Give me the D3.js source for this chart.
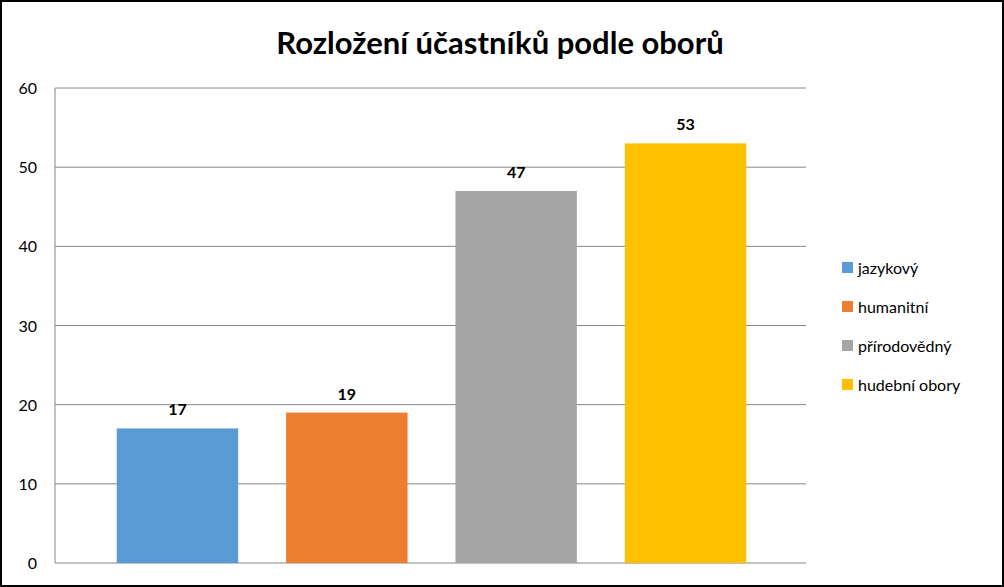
<!DOCTYPE html>
<html><head><meta charset="utf-8">
<script src="https://cdn.jsdelivr.net/npm/d3@7"></script>
<style>body{margin:0;background:#fff}</style>
</head><body>
<svg id="chart" width="1004" height="587"></svg>
<script>
const categories = ["jazykový", "humanitní", "přírodovědný", "hudební obory"];
const values = [17, 19, 47, 53];
const colours = ["#5b9bd5", "#ed7d31", "#a5a5a5", "#ffc000"];
const yTicks = [0, 10, 20, 30, 40, 50, 60];

const svg = d3.select("#chart");
const font = "Lato, 'Open Sans', sans-serif";

// outer border
svg.append("rect").attr("x", 1).attr("y", 1).attr("width", 1002).attr("height", 585)
    .attr("fill", "#fff").attr("stroke", "#000").attr("stroke-width", 2);

svg.append("text").attr("x", 500).attr("y", 54).attr("text-anchor", "middle")
    .attr("font-family", font).attr("font-weight", "bold").attr("font-size", 31)
    .text("Rozložení účastníků podle oborů");

const plotLeft = 55, plotRight = 806, plotTop = 88, plotBottom = 563;
const y = d3.scaleLinear().domain([0, 60]).range([plotBottom, plotTop]);
const x = d3.scaleBand().domain(categories).range([116.75, 746.25])
    .paddingInner(0.283).paddingOuter(0);

// gridlines
svg.append("g").selectAll("line").data(yTicks).join("line")
    .attr("x1", plotLeft).attr("x2", plotRight)
    .attr("y1", d => y(d)).attr("y2", d => y(d))
    .attr("stroke", "#868686").attr("stroke-width", 1);
svg.append("line").attr("x1", plotLeft).attr("x2", plotLeft).attr("y1", plotTop).attr("y2", plotBottom)
    .attr("stroke", "#868686");

svg.append("g").selectAll("text").data(yTicks).join("text")
    .attr("x", 37).attr("y", d => y(d) + 6).attr("text-anchor", "end")
    .attr("font-family", font).attr("font-size", 16).text(d => d);

svg.append("g").selectAll("rect").data(values).join("rect")
    .attr("x", (d, i) => x(categories[i])).attr("width", x.bandwidth())
    .attr("y", d => y(d)).attr("height", d => plotBottom - y(d))
    .attr("fill", (d, i) => colours[i]);

svg.append("g").selectAll("text").data(values).join("text")
    .attr("x", (d, i) => x(categories[i]) + x.bandwidth() / 2)
    .attr("y", d => y(d) - 13).attr("text-anchor", "middle")
    .attr("font-family", font).attr("font-weight", "bold").attr("font-size", 16)
    .text(d => d);

const legend = svg.append("g").selectAll("g").data(categories).join("g")
    .attr("transform", (d, i) => `translate(842,${268 + i * 39})`);
legend.append("rect").attr("x", 0).attr("y", -6).attr("width", 11).attr("height", 11)
    .attr("fill", (d, i) => colours[i]);
legend.append("text").attr("x", 16).attr("y", 6)
    .attr("font-family", font).attr("font-size", 16).text(d => d);
</script>
</body></html>
